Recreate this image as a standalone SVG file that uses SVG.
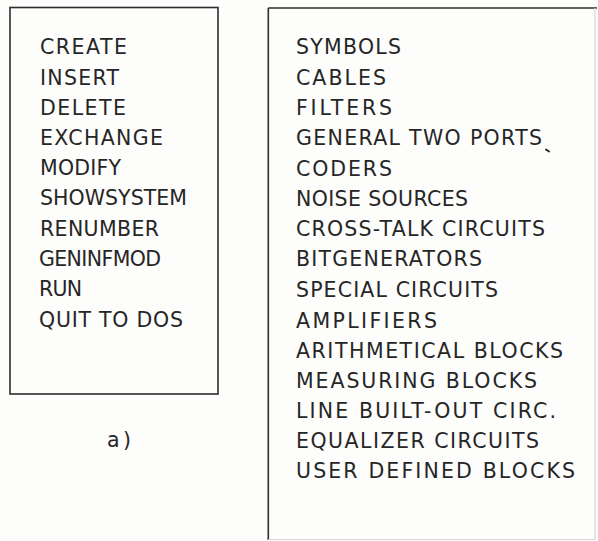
<svg xmlns="http://www.w3.org/2000/svg" width="598" height="541" viewBox="0 0 598 541">
  <style>
    .frame { fill: none; stroke: #2e2e2e; stroke-width: 1.6; }
    .faint { fill: none; stroke: #d8d8d8; stroke-width: 1.2; }
    .menu { font-family: "DejaVu Sans", "Liberation Sans", sans-serif; font-size: 20.5px; fill: #262626; }
  </style>
  <rect width="598" height="541" fill="#fdfdfc"/>

  <!-- main command menu -->
  <g id="command-menu">
    <rect class="frame" x="10" y="7.5" width="208" height="386.5"/>
    <g class="menu">
      <text x="40" y="54" textLength="87" lengthAdjust="spacing">CREATE</text>
      <text x="40" y="84.5" textLength="79" lengthAdjust="spacing">INSERT</text>
      <text x="40" y="114.8" textLength="86" lengthAdjust="spacing">DELETE</text>
      <text x="40" y="144.8" textLength="123" lengthAdjust="spacing">EXCHANGE</text>
      <text x="40" y="175.2" textLength="81" lengthAdjust="spacing">MODIFY</text>
      <text x="40" y="205.2" textLength="147" lengthAdjust="spacing">SHOWSYSTEM</text>
      <text x="40" y="235.5" textLength="119" lengthAdjust="spacing">RENUMBER</text>
      <text x="39" y="266.2" textLength="122" lengthAdjust="spacing">GENINFMOD</text>
      <text x="39" y="296.2" textLength="43" lengthAdjust="spacing">RUN</text>
      <text x="39" y="327.2" textLength="144" lengthAdjust="spacing">QUIT TO DOS</text>
    </g>
  </g>

  <!-- sub-figure caption -->
  <g id="caption-a">
    <text class="menu" x="107" y="447" textLength="24" lengthAdjust="spacing">a)</text>
  </g>

  <!-- block library menu -->
  <g id="block-menu">
    <line class="frame" x1="268.3" y1="8" x2="597" y2="8"/>
    <line class="frame" x1="268.3" y1="8" x2="268.3" y2="540"/>
    <line class="faint" x1="595" y1="8" x2="595" y2="540"/>
    <line class="faint" x1="268.3" y1="539.5" x2="595" y2="539.5"/>
    <g class="menu">
      <text x="296" y="53.8" textLength="105" lengthAdjust="spacing">SYMBOLS</text>
      <text x="296" y="84.5" textLength="90" lengthAdjust="spacing">CABLES</text>
      <text x="296" y="115" textLength="96" lengthAdjust="spacing">FILTERS</text>
      <text x="296" y="145" textLength="246" lengthAdjust="spacing">GENERAL TWO PORTS</text>
      <text x="296" y="175.5" textLength="96" lengthAdjust="spacing">CODERS</text>
      <text x="296" y="205.5" textLength="172" lengthAdjust="spacing">NOISE SOURCES</text>
      <text x="296" y="235.5" textLength="249" lengthAdjust="spacing">CROSS-TALK CIRCUITS</text>
      <text x="296" y="266" textLength="186" lengthAdjust="spacing">BITGENERATORS</text>
      <text x="296" y="297.2" textLength="202" lengthAdjust="spacing">SPECIAL CIRCUITS</text>
      <text x="296" y="327.5" textLength="141" lengthAdjust="spacing">AMPLIFIERS</text>
      <text x="296" y="357.5" textLength="267" lengthAdjust="spacing">ARITHMETICAL BLOCKS</text>
      <text x="296" y="387.5" textLength="241" lengthAdjust="spacing">MEASURING BLOCKS</text>
      <text x="296" y="418" textLength="260" lengthAdjust="spacing">LINE BUILT-OUT CIRC.</text>
      <text x="296" y="448" textLength="243" lengthAdjust="spacing">EQUALIZER CIRCUITS</text>
      <text x="296" y="478" textLength="279" lengthAdjust="spacing">USER DEFINED BLOCKS</text>
    </g>
    <!-- small ink mark after PORTS -->
    <line x1="546" y1="149.5" x2="549" y2="151.5" stroke="#262626" stroke-width="2" stroke-linecap="round"/>
  </g>
</svg>
